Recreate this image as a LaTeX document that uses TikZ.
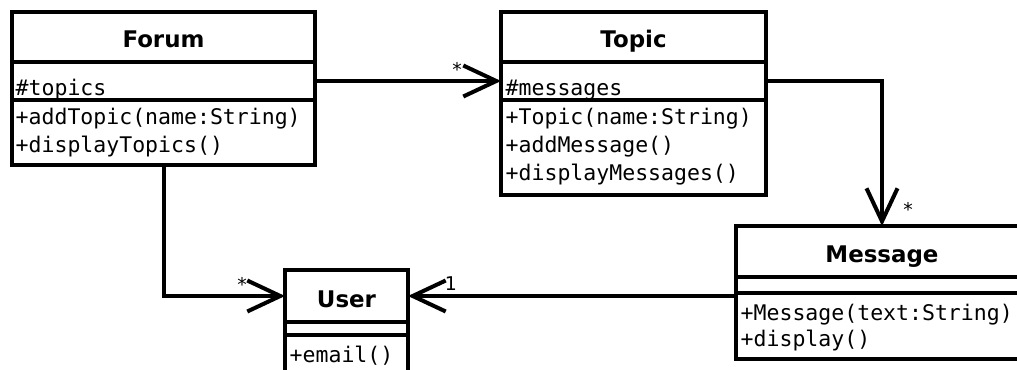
\documentclass[tikz,border=0pt]{standalone}
\usepackage{fontspec}
\setmainfont{DejaVu Sans}
\newfontfamily\monofam{DejaVu Sans Mono}
\usetikzlibrary{arrows.meta}
\begin{document}
\begin{tikzpicture}[x=1bp,y=-1bp,
  box/.style={draw, line width=4bp, inner sep=0pt, outer sep=0pt, anchor=north west},
  ttl/.style={font=\fontsize{23}{27}\selectfont\bfseries, anchor=base, inner sep=0pt},
  mem/.style={font=\fontsize{21.6}{25}\selectfont\monofam, anchor=base west, inner sep=0pt},
  assoc/.style={line width=4bp, -{Straight Barb[length=33bp, width=31bp]}},
  mult/.style={font=\fontsize{19}{22}\selectfont, anchor=base, inner sep=0pt}]
\clip (0,0) rectangle (1017,369);
% Forum
\node[box, minimum width=303bp, minimum height=50bp] (forumT) at (12,12) {};
\node[box, minimum width=303bp, minimum height=38bp] (forumA) at (12,62) {};
\node[box, minimum width=303bp, minimum height=65bp] (forumM) at (12,100) {};
\node[ttl] (forumN) at (163.5,47) {Forum};
\node[mem] (forumA1) at (15.5,95) {\#topics};
\node[mem] (forumM1) at (15.5,124) {+addTopic(name:String)};
\node[mem] (forumM2) at (15.5,152) {+displayTopics()};
% Topic
\node[box, minimum width=265bp, minimum height=50bp] (topicT) at (501,12) {};
\node[box, minimum width=265bp, minimum height=38bp] (topicA) at (501,62) {};
\node[box, minimum width=265bp, minimum height=95bp] (topicM) at (501,100) {};
\node[ttl] (topicN) at (633.5,47) {Topic};
\node[mem] (topicA1) at (505.5,95) {\#messages};
\node[mem] (topicM1) at (505.5,124) {+Topic(name:String)};
\node[mem] (topicM2) at (505.5,152) {+addMessage()};
\node[mem] (topicM3) at (505.5,180) {+displayMessages()};
% Message
\node[box, minimum width=292bp, minimum height=51bp] (msgT) at (736,226) {};
\node[box, minimum width=292bp, minimum height=16bp] (msgA) at (736,277) {};
\node[box, minimum width=292bp, minimum height=66bp] (msgM) at (736,293) {};
\node[ttl] (msgN) at (882,262) {Message};
\node[mem] (msgM1) at (740.5,320) {+Message(text:String)};
\node[mem] (msgM2) at (740.5,346) {+display()};
% User
\node[box, minimum width=123bp, minimum height=52bp] (userT) at (285,270) {};
\node[box, minimum width=123bp, minimum height=13bp] (userA) at (285,322) {};
\node[box, minimum width=123bp, minimum height=70bp] (userM) at (285,335) {};
\node[ttl] (userN) at (346.5,307) {User};
\node[mem] (userM1) at (289.5,362) {+email()};
% connectors
\draw[assoc] (forumA.east) -- (topicA.west);
\draw[assoc] (topicA.east) -| (msgT.north);
\draw[assoc] (forumM.south) |- (userT.west);
\draw[assoc] (msgT.west |- userT.east) -- (userT.east);
% multiplicities
\node[mult] (m1) at (457,76) {*};
\node[mult] (m2) at (908,216) {*};
\node[mult] (m3) at (242,291) {*};
\node[mult] (m4) at (451,290) {1};
\end{tikzpicture}
\end{document}
